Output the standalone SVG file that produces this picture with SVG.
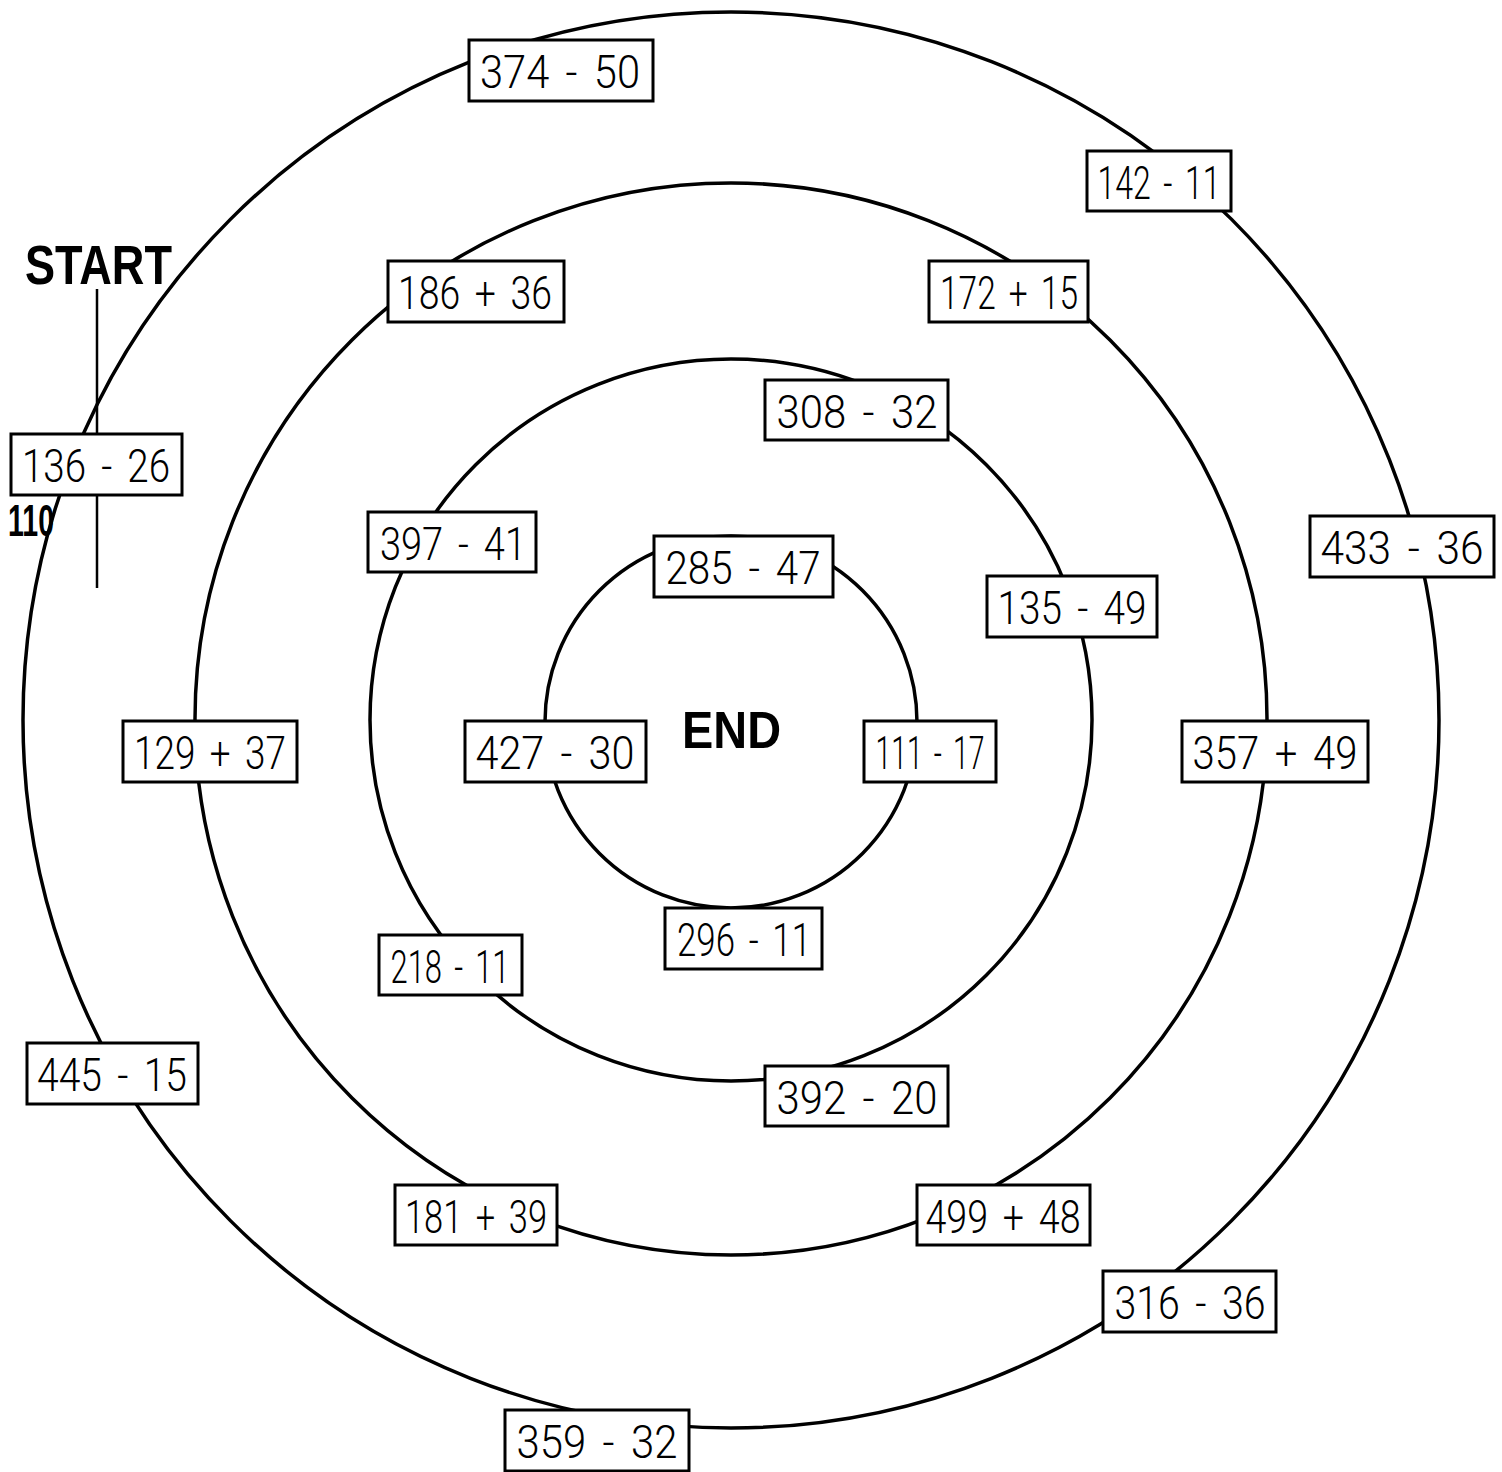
<svg xmlns="http://www.w3.org/2000/svg" width="1502" height="1472" viewBox="0 0 1502 1472">
<style>
.ring{fill:none;stroke:#000;stroke-width:3.5}
.box rect{fill:#fff;stroke:#000;stroke-width:3}
.box text{font-family:Roboto,"Liberation Sans",sans-serif;font-weight:300;font-size:47px;word-spacing:7px;fill:#000;text-anchor:middle}
.lbl{font-family:"Liberation Sans",Arial,sans-serif;font-weight:bold;fill:#000}
</style>
<rect x="0" y="0" width="1502" height="1472" fill="#fff"/>
<g id="connectors">
<circle class="ring" cx="731" cy="720" r="708"/>
<circle class="ring" cx="731" cy="719" r="536"/>
<circle class="ring" cx="731" cy="720" r="361"/>
<circle class="ring" cx="731" cy="722" r="186"/>
<line x1="97" y1="289" x2="97" y2="588" stroke="#000" stroke-width="2.5"/>
</g>
<g id="start-label"><text class="lbl" x="25" y="284" font-size="55" textLength="147" lengthAdjust="spacingAndGlyphs">START</text></g>
<g id="answer-label"><text class="lbl" x="8" y="536" font-size="45" textLength="46" lengthAdjust="spacingAndGlyphs">110</text></g>
<g id="end-label"><text class="lbl" x="682" y="748" font-size="52" textLength="99" lengthAdjust="spacingAndGlyphs">END</text></g>
<g id="n1" class="box"><rect x="469" y="40" width="184" height="61"/><text x="560" y="88" textLength="160" lengthAdjust="spacingAndGlyphs">374 - 50</text></g>
<g id="n2" class="box"><rect x="1087" y="151" width="144" height="60"/><text x="1159" y="199" textLength="123" lengthAdjust="spacingAndGlyphs">142 - 11</text></g>
<g id="n3" class="box"><rect x="388" y="261" width="176" height="61"/><text x="475" y="309" textLength="154" lengthAdjust="spacingAndGlyphs">186 + 36</text></g>
<g id="n4" class="box"><rect x="929" y="261" width="159" height="61"/><text x="1009" y="309" textLength="138" lengthAdjust="spacingAndGlyphs">172 + 15</text></g>
<g id="n5" class="box"><rect x="765" y="380" width="183" height="60"/><text x="857" y="428" textLength="161" lengthAdjust="spacingAndGlyphs">308 - 32</text></g>
<g id="n6" class="box"><rect x="11" y="434" width="171" height="61"/><text x="96" y="482" textLength="148" lengthAdjust="spacingAndGlyphs">136 - 26</text></g>
<g id="n7" class="box"><rect x="368" y="512" width="168" height="60"/><text x="453" y="560" textLength="146" lengthAdjust="spacingAndGlyphs">397 - 41</text></g>
<g id="n8" class="box"><rect x="654" y="536" width="179" height="61"/><text x="743" y="584" textLength="155" lengthAdjust="spacingAndGlyphs">285 - 47</text></g>
<g id="n9" class="box"><rect x="1310" y="516" width="184" height="61"/><text x="1402" y="564" textLength="163" lengthAdjust="spacingAndGlyphs">433 - 36</text></g>
<g id="n10" class="box"><rect x="987" y="576" width="170" height="61"/><text x="1072" y="624" textLength="149" lengthAdjust="spacingAndGlyphs">135 - 49</text></g>
<g id="n11" class="box"><rect x="123" y="721" width="174" height="61"/><text x="210" y="769" textLength="152" lengthAdjust="spacingAndGlyphs">129 + 37</text></g>
<g id="n12" class="box"><rect x="465" y="721" width="181" height="61"/><text x="555" y="769" textLength="159" lengthAdjust="spacingAndGlyphs">427 - 30</text></g>
<g id="n13" class="box"><rect x="864" y="721" width="132" height="61"/><text x="930" y="769" textLength="109" lengthAdjust="spacingAndGlyphs">111 - 17</text></g>
<g id="n14" class="box"><rect x="1182" y="721" width="186" height="61"/><text x="1275" y="769" textLength="165" lengthAdjust="spacingAndGlyphs">357 + 49</text></g>
<g id="n15" class="box"><rect x="379" y="935" width="143" height="60"/><text x="450" y="983" textLength="119" lengthAdjust="spacingAndGlyphs">218 - 11</text></g>
<g id="n16" class="box"><rect x="665" y="908" width="157" height="61"/><text x="744" y="956" textLength="134" lengthAdjust="spacingAndGlyphs">296 - 11</text></g>
<g id="n17" class="box"><rect x="27" y="1043" width="171" height="61"/><text x="112" y="1091" textLength="150" lengthAdjust="spacingAndGlyphs">445 - 15</text></g>
<g id="n18" class="box"><rect x="765" y="1066" width="183" height="60"/><text x="857" y="1114" textLength="161" lengthAdjust="spacingAndGlyphs">392 - 20</text></g>
<g id="n19" class="box"><rect x="395" y="1185" width="162" height="60"/><text x="476" y="1233" textLength="142" lengthAdjust="spacingAndGlyphs">181 + 39</text></g>
<g id="n20" class="box"><rect x="917" y="1185" width="173" height="60"/><text x="1003" y="1233" textLength="155" lengthAdjust="spacingAndGlyphs">499 + 48</text></g>
<g id="n21" class="box"><rect x="1103" y="1271" width="173" height="61"/><text x="1190" y="1319" textLength="151" lengthAdjust="spacingAndGlyphs">316 - 36</text></g>
<g id="n22" class="box"><rect x="505" y="1410" width="184" height="61"/><text x="597" y="1458" textLength="161" lengthAdjust="spacingAndGlyphs">359 - 32</text></g>
</svg>
